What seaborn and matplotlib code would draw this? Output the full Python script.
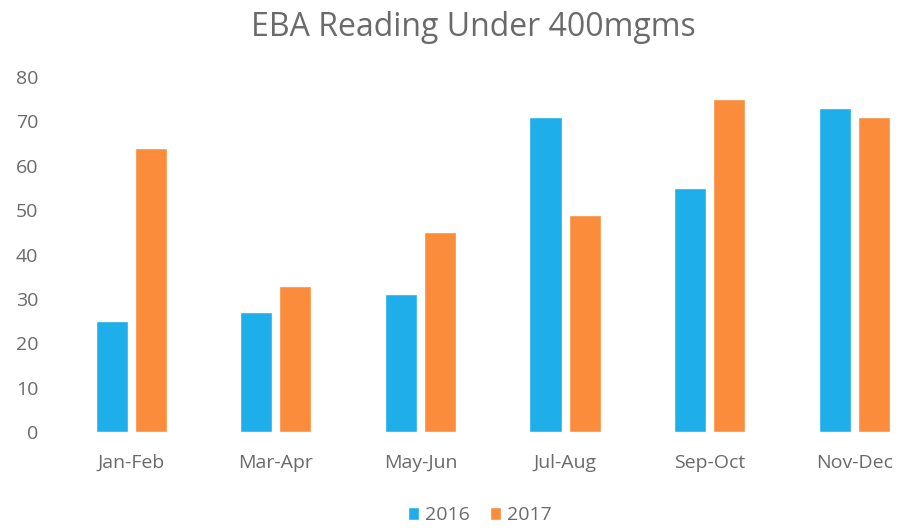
import pandas as pd
import matplotlib
matplotlib.use("Agg")
import matplotlib.pyplot as plt
import seaborn as sns

# -----------------------------
# DATA
# -----------------------------
periods = ["Jan-Feb", "Mar-Apr", "May-Jun", "Jul-Aug", "Sep-Oct", "Nov-Dec"]
years = ["2016", "2017"]
values_2016 = [25, 27, 31, 71, 55, 73]
values_2017 = [64, 33, 45, 49, 75, 71]
y_ticks = [0, 10, 20, 30, 40, 50, 60, 70, 80]

df = pd.DataFrame({
    "period": periods * 2,
    "year": [years[0]] * len(periods) + [years[1]] * len(periods),
    "value": values_2016 + values_2017,
})

# -----------------------------
# STYLE
# -----------------------------
sns.set_theme(style="white")
plt.rcParams["font.family"] = ["Open Sans", "DejaVu Sans"]

GRAY = "#6a6a6a"
palette = {"2016": "#1EAEEA", "2017": "#FA8C3C"}

fig = plt.figure(figsize=(8.99, 5.31), dpi=100)
ax = fig.add_axes([0.0656, 0.1864, 0.9344, 0.6686])

sns.barplot(
    data=df, x="period", y="value", hue="year",
    palette=palette, width=0.54, gap=0.18,
    saturation=1, ax=ax, legend=True
)

ax.set_xlim(-0.5, 5.31)
ax.set_ylim(0, 80)
ax.set_yticks(y_ticks)
ax.set_xlabel("")
ax.set_ylabel("")
sns.despine(ax=ax, left=True, bottom=True)

ax.tick_params(axis="both", colors=GRAY, labelsize=14, length=0)
ax.tick_params(axis="y", pad=15)
ax.tick_params(axis="x", pad=16)

fig.text(0.527, 0.948, "EBA Reading Under 400mgms", ha="center", va="center",
         fontsize=23, color=GRAY)

handles, labels = ax.get_legend_handles_labels()
ax.legend(handles, labels, loc="center", bbox_to_anchor=(0.501, -0.235),
          ncol=2, frameon=False, fontsize=14, labelcolor=GRAY,
          handlelength=0.6, handleheight=0.6, handletextpad=0.3, columnspacing=1.0)

fig.savefig("out.png", dpi=100)
